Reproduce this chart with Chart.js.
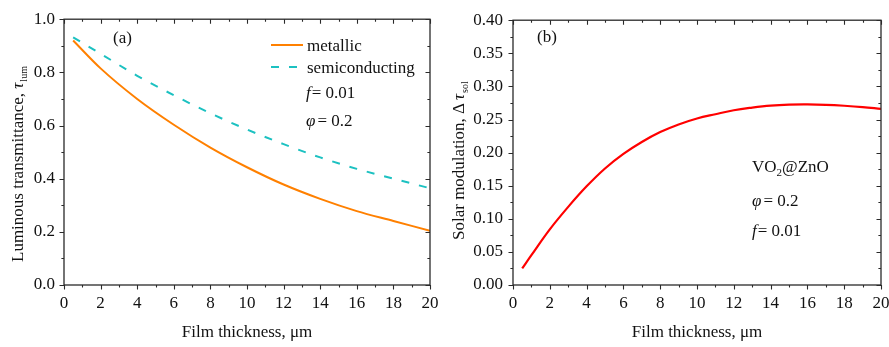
<!DOCTYPE html>
<html>
<head>
<meta charset="utf-8">
<script src="https://cdn.jsdelivr.net/npm/chart.js@4.4.1/dist/chart.umd.min.js"></script>
<style>
  html, body { margin: 0; padding: 0; background: #fff; overflow: hidden; width: 889px; height: 347px; }
  .panel { position: absolute; top: 0; }
  #panelA { left: 0; }
  #panelB { left: 445px; }
</style>
</head>
<body>
<div class="panel" id="panelA"><canvas id="chartA" width="470" height="347"></canvas></div>
<div class="panel" id="panelB"><canvas id="chartB" width="470" height="347"></canvas></div>
<script>
// ---- data ----
// (a) luminous transmittance vs film thickness (µm)
const thicknessA = [0.5, 2, 4, 6, 8, 10, 12, 14, 16, 18, 20];
const metallic = [0.920, 0.815, 0.700, 0.603, 0.517, 0.443, 0.378, 0.324, 0.278, 0.241, 0.204];
const semiconducting = [0.932, 0.870, 0.787, 0.714, 0.646, 0.585, 0.530, 0.480, 0.437, 0.400, 0.364];

// (b) solar modulation vs film thickness (µm)
const thicknessB = [0.5, 1, 2, 3, 4, 5, 6, 7, 8, 9, 10, 11, 12, 13, 14, 15, 16, 17, 18, 19, 20];
const solarModulation = [0.025, 0.045, 0.084, 0.118, 0.149, 0.176, 0.198, 0.216, 0.231, 0.2425, 0.2515,
                         0.258, 0.264, 0.268, 0.271, 0.2725, 0.2728, 0.2722, 0.2708, 0.2688, 0.266];

// axis ticks
const xTicks = [0, 2, 4, 6, 8, 10, 12, 14, 16, 18, 20];
const yTicksA = [0.0, 0.2, 0.4, 0.6, 0.8, 1.0];
const yTicksB = [0.00, 0.05, 0.10, 0.15, 0.20, 0.25, 0.30, 0.35, 0.40];

const SERIF = '"Liberation Serif", "Times New Roman", serif';
const INK = '#111';
const AXIS = '#2a2a2a';

function pts(xs, ys) { return xs.map((x, i) => ({ x: x, y: ys[i] })); }

// frame with major / minor ticks: outward on left & bottom, inward on top & right
function framePlugin(xMajor, yMajor) {
  return {
    id: 'frame',
    afterDatasetsDraw(chart) {
      const { ctx, chartArea: a, scales: { x, y } } = chart;
      ctx.save();
      ctx.strokeStyle = AXIS;
      ctx.lineWidth = 1.3;
      ctx.strokeRect(a.left, a.top, a.right - a.left, a.bottom - a.top);
      ctx.lineWidth = 1.1;
      const MAJ = 4.5, MIN = 2.6;
      ctx.beginPath();
      const xMinor = [];
      for (let i = 0; i < xMajor.length - 1; i++) xMinor.push((xMajor[i] + xMajor[i + 1]) / 2);
      const yMinor = [];
      for (let i = 0; i < yMajor.length - 1; i++) yMinor.push((yMajor[i] + yMajor[i + 1]) / 2);
      const xt = (v, len) => {
        const px = Math.round(x.getPixelForValue(v)) + 0.5;
        ctx.moveTo(px, a.bottom); ctx.lineTo(px, a.bottom + len);
        ctx.moveTo(px, a.top); ctx.lineTo(px, a.top + len);
      };
      const yt = (v, len) => {
        const py = Math.round(y.getPixelForValue(v)) + 0.5;
        ctx.moveTo(a.left, py); ctx.lineTo(a.left - len, py);
        ctx.moveTo(a.right, py); ctx.lineTo(a.right - len, py);
      };
      xMajor.forEach(v => xt(v, MAJ));
      xMinor.forEach(v => xt(v, MIN));
      yMajor.forEach(v => yt(v, MAJ));
      yMinor.forEach(v => yt(v, MIN));
      ctx.stroke();
      ctx.restore();
    }
  };
}

// draws a sequence of text runs left to right
function runs(ctx, x, y, parts) {
  let cx = x;
  parts.forEach(p => {
    ctx.font = (p.italic ? 'italic ' : '') + (p.size || 17) + 'px ' + SERIF;
    ctx.fillText(p.t, cx, y + (p.dy || 0));
    cx += ctx.measureText(p.t).width + (p.gap || 0);
  });
}

// rotated y-axis title
function yTitle(ctx, baseX, bottomY, parts) {
  ctx.save();
  ctx.translate(baseX, bottomY);
  ctx.rotate(-Math.PI / 2);
  ctx.textAlign = 'left';
  ctx.textBaseline = 'alphabetic';
  ctx.fillStyle = INK;
  runs(ctx, 0, 0, parts);
  ctx.restore();
}

function xTitle(ctx, chart, text, y) {
  const a = chart.chartArea;
  ctx.save();
  ctx.font = '17px ' + SERIF;
  ctx.fillStyle = INK;
  ctx.textAlign = 'center';
  ctx.textBaseline = 'alphabetic';
  ctx.fillText(text, (a.left + a.right) / 2, y);
  ctx.restore();
}

function baseOptions(yMin, yMax, yStep, decimals, yWidth, yPad, padRight) {
  return {
    responsive: false,
    animation: false,
    events: [],
    layout: { padding: { top: 14, right: padRight, left: 0, bottom: 0 } },
    plugins: { legend: { display: false }, tooltip: { enabled: false } },
    scales: {
      x: {
        type: 'linear', min: 0, max: 20,
        border: { display: false },
        grid: { display: false, drawTicks: false },
        afterBuildTicks: s => { s.ticks = xTicks.map(v => ({ value: v })); },
        ticks: { color: INK, font: { family: SERIF, size: 17 }, padding: 8, maxRotation: 0, autoSkip: false,
                 callback: v => String(v) },
        afterFit: s => { s.height = 62; }
      },
      y: {
        type: 'linear', min: yMin, max: yMax,
        border: { display: false },
        grid: { display: false, drawTicks: false },
        ticks: { stepSize: yStep, color: INK, font: { family: SERIF, size: 17 }, padding: yPad, autoSkip: false,
                 callback: v => Number(v).toFixed(decimals) },
        afterFit: s => { s.width = yWidth; }
      }
    }
  };
}

// ---- panel (a) ----  plot area x: 64..430
const optsA = baseOptions(0, 1.0, 0.2, 1, 64, 9, 470 - 430);
optsA.scales.y.afterBuildTicks = s => { s.ticks = yTicksA.map(v => ({ value: v })); };

new Chart(document.getElementById('chartA'), {
  type: 'line',
  data: {
    datasets: [
      { label: 'metallic', data: pts(thicknessA, metallic), borderColor: '#ff8000', borderWidth: 2,
        pointRadius: 0, cubicInterpolationMode: 'monotone', fill: false },
      { label: 'semiconducting', data: pts(thicknessA, semiconducting), borderColor: '#1cc1c1', borderWidth: 2,
        borderDash: [8, 10], pointRadius: 0, cubicInterpolationMode: 'monotone', fill: false }
    ]
  },
  options: optsA,
  plugins: [framePlugin(xTicks, yTicksA), {
    id: 'labelsA',
    afterDraw(chart) {
      const ctx = chart.ctx;
      ctx.save();
      ctx.fillStyle = INK;
      ctx.textBaseline = 'alphabetic';
      ctx.textAlign = 'left';
      runs(ctx, 113, 43, [{ t: '(a)' }]);
      // legend
      const ds = chart.data.datasets;
      ctx.lineWidth = 2;
      ctx.strokeStyle = ds[0].borderColor;
      ctx.beginPath(); ctx.moveTo(271, 45); ctx.lineTo(303, 45); ctx.stroke();
      ctx.strokeStyle = ds[1].borderColor;
      ctx.setLineDash(ds[1].borderDash);
      ctx.beginPath(); ctx.moveTo(271, 67); ctx.lineTo(303, 67); ctx.stroke();
      ctx.setLineDash([]);
      runs(ctx, 307, 51, [{ t: ds[0].label }]);
      runs(ctx, 307, 73, [{ t: ds[1].label }]);
      runs(ctx, 306, 97.5, [{ t: 'f', italic: true, gap: 1 }, { t: '= 0.01' }]);
      runs(ctx, 306, 126, [{ t: 'φ', italic: true, gap: 2 }, { t: '= 0.2' }]);
      ctx.restore();
      yTitle(ctx, 22.5, 262, [
        { t: 'Luminous transmittance, ' },
        { t: 'τ', italic: true, gap: 1 },
        { t: 'lum', size: 10, dy: 4 }
      ]);
      xTitle(ctx, chart, 'Film thickness, μm', 337);
    }
  }]
});

// ---- panel (b) ----  plot area x: 513..881 (canvas offset 445)
const optsB = baseOptions(0, 0.40, 0.05, 2, 68, 10, 470 - 436);
optsB.scales.y.afterBuildTicks = s => { s.ticks = yTicksB.map(v => ({ value: v })); };

new Chart(document.getElementById('chartB'), {
  type: 'line',
  data: {
    datasets: [
      { label: 'VO2@ZnO', data: pts(thicknessB, solarModulation), borderColor: '#ff0000', borderWidth: 2.2,
        pointRadius: 0, tension: 0.4, fill: false }
    ]
  },
  options: optsB,
  plugins: [framePlugin(xTicks, yTicksB), {
    id: 'labelsB',
    afterDraw(chart) {
      const ctx = chart.ctx;
      ctx.save();
      ctx.fillStyle = INK;
      ctx.textBaseline = 'alphabetic';
      ctx.textAlign = 'left';
      runs(ctx, 537 - 445, 42, [{ t: '(b)' }]);
      runs(ctx, 752 - 445, 172, [{ t: 'VO' }, { t: '2', size: 11, dy: 4 }, { t: '@ZnO' }]);
      runs(ctx, 752 - 445, 206, [{ t: 'φ', italic: true, gap: 2 }, { t: '= 0.2' }]);
      runs(ctx, 752 - 445, 236, [{ t: 'f', italic: true, gap: 1 }, { t: '= 0.01' }]);
      ctx.restore();
      yTitle(ctx, 463.5 - 445, 240, [
        { t: 'Solar modulation, ' },
        { t: 'Δ', gap: 3 },
        { t: 'τ', italic: true, gap: 1 },
        { t: 'sol', size: 10, dy: 4 }
      ]);
      xTitle(ctx, chart, 'Film thickness, μm', 337);
    }
  }]
});
</script>
</body>
</html>
